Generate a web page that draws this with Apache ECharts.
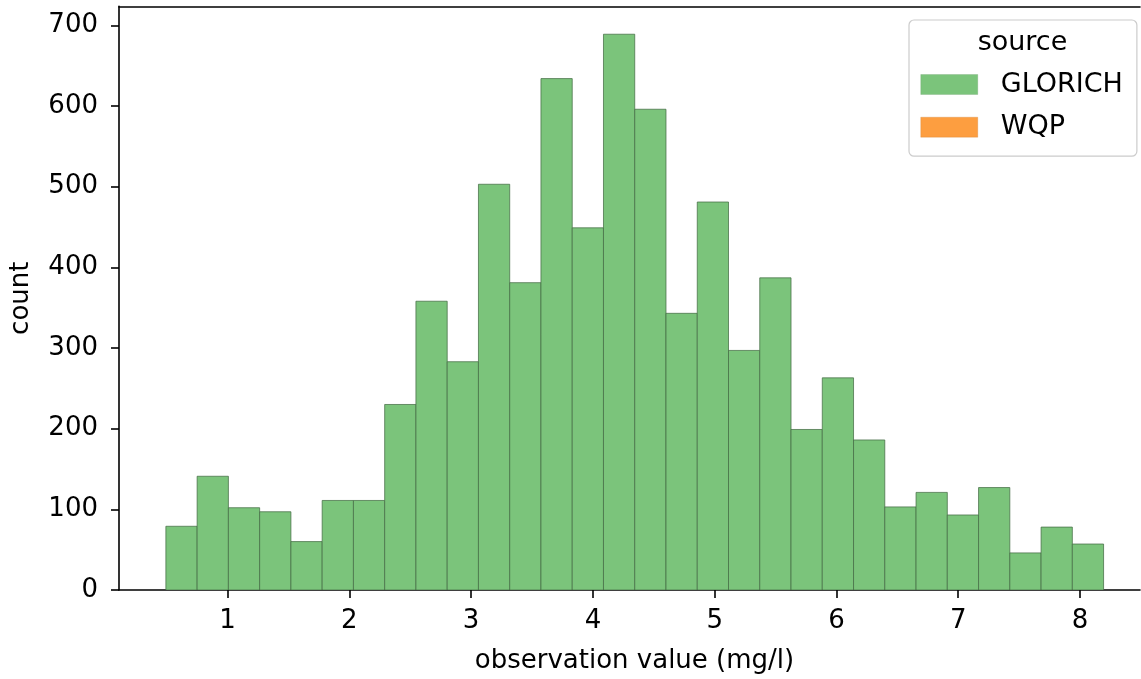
<!DOCTYPE html>
<html>
<head>
<meta charset="utf-8">
<script src="https://cdn.jsdelivr.net/npm/echarts@6/dist/echarts.min.js"></script>
<style>
  html, body { margin: 0; padding: 0; background: #fff; }
  #chart { width: 1141px; height: 679px; }
</style>
</head>
<body>
<div id="chart"></div>
<script>
// ---- data ----
const binStart = 0.493;   // left edge of first bin (mg/l)
const binWidth = 0.2567;  // width of each bin (mg/l)
const glorichCounts = [79, 141, 102, 97, 60, 111, 111, 230, 358, 283,
                       503, 381, 634, 449, 689, 596, 343, 481, 297, 387,
                       199, 263, 186, 103, 121, 93, 127, 46, 78, 57];
const wqpCounts = [];
const xTicks = [1, 2, 3, 4, 5, 6, 7, 8];
const yTicks = [0, 100, 200, 300, 400, 500, 600, 700];
const seriesNames = ['GLORICH', 'WQP'];
const legendTitle = 'source';
const xAxisName = 'observation value (mg/l)';
const yAxisName = 'count';

// ---- build histogram rows [left, right, count] ----
const glorichRows = glorichCounts.map((c, i) => [binStart + i * binWidth, binStart + (i + 1) * binWidth, c]);
const wqpRows = wqpCounts.map((c, i) => [binStart + i * binWidth, binStart + (i + 1) * binWidth, c]);

const FONT = 'DejaVu Sans';
const GREEN = '#7bc47b';
const GREEN_EDGE = 'rgba(70,110,70,0.75)';
const ORANGE = '#fd9e40';
const X_MIN = 0.108, X_MAX = 8.493;

function makeRender(fill, stroke) {
  return function (params, api) {
    const x0 = api.value(0), x1 = api.value(1), y = api.value(2);
    const p0 = api.coord([x0, y]);
    const p1 = api.coord([x1, 0]);
    return {
      type: 'rect',
      shape: { x: p0[0], y: p0[1], width: p1[0] - p0[0], height: p1[1] - p0[1] },
      style: { fill: fill, stroke: stroke, lineWidth: 1 }
    };
  };
}

const chart = echarts.init(document.getElementById('chart'), null, { renderer: 'canvas' });
chart.setOption({
  animation: false,
  backgroundColor: '#ffffff',
  textStyle: { fontFamily: FONT },
  grid: {
    left: 117, right: 1, top: 6.4, bottom: 88,
    show: false
  },
  xAxis: [{
    type: 'value',
    min: X_MIN, max: X_MAX,
    position: 'bottom',
    name: xAxisName,
    nameLocation: 'middle',
    nameGap: 58,
    nameTextStyle: { fontFamily: FONT, fontSize: 26, color: '#000', padding: [0, 0, 0, 10] },
    axisLine: { show: true, onZero: false, lineStyle: { color: '#000', width: 1.6 } },
    axisTick: { show: true, length: 8, inside: false, customValues: xTicks, lineStyle: { color: '#000', width: 1.6 } },
    axisLabel: { customValues: xTicks, fontFamily: FONT, fontSize: 26, color: '#000', margin: 18 },
    splitLine: { show: false }
  }, {
    type: 'value',
    min: X_MIN, max: X_MAX,
    position: 'top',
    axisLine: { show: true, onZero: false, lineStyle: { color: '#000', width: 1.6 } },
    axisTick: { show: false },
    axisLabel: { show: false },
    splitLine: { show: false }
  }],
  yAxis: {
    type: 'value',
    min: 0, max: 723.5,
    name: yAxisName,
    nameLocation: 'middle',
    nameRotate: 90,
    nameGap: 85,
    nameTextStyle: { fontFamily: FONT, fontSize: 26, color: '#000' },
    axisLine: { show: true, onZero: false, lineStyle: { color: '#000', width: 1.6 } },
    axisTick: { show: true, length: 8, inside: false, customValues: yTicks, lineStyle: { color: '#000', width: 1.6 } },
    axisLabel: { customValues: yTicks, fontFamily: FONT, fontSize: 26, color: '#000', margin: 21 },
    splitLine: { show: false }
  },
  legend: {
    orient: 'vertical',
    left: 909, top: 20,
    padding: [51, 14, 15.5, 11.5],
    itemWidth: 57, itemHeight: 20, itemGap: 15.7,
    backgroundColor: '#fff',
    borderColor: '#cccccc', borderWidth: 1.2, borderRadius: 5,
    selectedMode: false,
    textStyle: { fontFamily: FONT, fontSize: 27, color: '#000', lineHeight: 20, padding: [0, 0, 0, 18] },
    data: [
      { name: seriesNames[0], icon: 'rect', itemStyle: { color: GREEN, borderColor: 'rgba(100,150,100,0.5)', borderWidth: 0.5 } },
      { name: seriesNames[1], icon: 'rect', itemStyle: { color: ORANGE, borderColor: 'rgba(200,120,40,0.5)', borderWidth: 0.5 } }
    ]
  },
  graphic: [{
    type: 'text',
    x: 1022.5, y: 43,
    z: 100,
    style: {
      text: legendTitle,
      fontFamily: FONT, fontSize: 27, fill: '#000',
      align: 'center', verticalAlign: 'middle'
    }
  }],
  series: [
    {
      name: seriesNames[0],
      type: 'custom',
      xAxisIndex: 0,
      renderItem: makeRender(GREEN, GREEN_EDGE),
      encode: { x: [0, 1], y: 2 },
      itemStyle: { color: GREEN },
      data: glorichRows,
      clip: true
    },
    {
      name: seriesNames[1],
      type: 'custom',
      xAxisIndex: 0,
      renderItem: makeRender(ORANGE, 'rgba(200,100,20,0.75)'),
      encode: { x: [0, 1], y: 2 },
      itemStyle: { color: ORANGE },
      data: wqpRows,
      clip: true
    }
  ]
});
</script>
</body>
</html>
